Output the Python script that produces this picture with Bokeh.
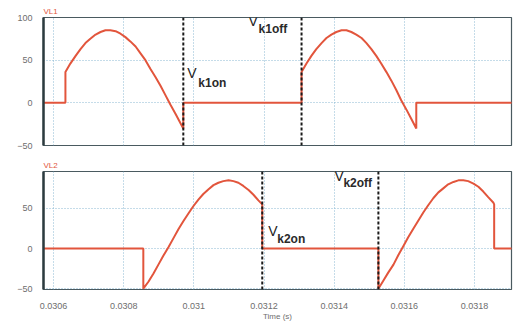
from bokeh.plotting import figure
from bokeh.layouts import column
from bokeh.models import Range1d, FixedTicker, Span, Label
from bokeh.embed import file_html
from bokeh.resources import INLINE

# ---------------- data ----------------
x_ticks = [0.0306, 0.0308, 0.031, 0.0312, 0.0314, 0.0316, 0.0318]
x_tick_labels = ["0.0306", "0.0308", "0.031", "0.0312", "0.0314", "0.0316", "0.0318"]
y_ticks_top = [-50, 0, 50, 100]
y_ticks_bot = [-50, 0, 50]

vl1_t = [0.03057, 0.030634,
         0.030634, 0.030648, 0.030663, 0.030677, 0.030691, 0.030705, 0.030720, 0.030734,
         0.030748, 0.030762, 0.030777, 0.030791, 0.030805, 0.030819, 0.030834, 0.030848,
         0.030862, 0.030876, 0.030891, 0.030905, 0.030919, 0.030933, 0.030948, 0.030962,
         0.030970,
         0.030970, 0.031307,
         0.031307, 0.031321, 0.031335, 0.031349, 0.031364, 0.031378, 0.031392, 0.031406,
         0.031421, 0.031435, 0.031449, 0.031463, 0.031478, 0.031492, 0.031506, 0.031520,
         0.031534, 0.031549, 0.031563, 0.031577, 0.031591, 0.031606, 0.031620, 0.031634,
         0.031634, 0.03191]
vl1_v = [0, 0,
         36, 46, 55, 63, 70, 75, 80, 83,
         85, 85, 84, 81, 77, 72, 66, 58,
         50, 40, 30, 20, 9, -2, -13, -24,
         -30,
         0, 0,
         36, 46, 55, 63, 70, 76, 80, 83,
         85, 85, 83, 80, 76, 70, 63, 55,
         46, 36, 26, 15, 3, -8, -19, -30,
         0, 0]

vl2_t = [0.03057, 0.030856,
         0.030856, 0.030871, 0.030885, 0.030899, 0.030913, 0.030928, 0.030942, 0.030956,
         0.030970, 0.030985, 0.030999, 0.031013, 0.031027, 0.031042, 0.031056, 0.031070,
         0.031084, 0.031099, 0.031113, 0.031127, 0.031141, 0.031156, 0.031170, 0.031184,
         0.031195,
         0.031195, 0.031526,
         0.031526, 0.031540, 0.031554, 0.031569, 0.031583, 0.031597, 0.031611, 0.031626,
         0.031640, 0.031654, 0.031668, 0.031683, 0.031697, 0.031711, 0.031725, 0.031740,
         0.031754, 0.031768, 0.031782, 0.031797, 0.031811, 0.031825, 0.031839, 0.031854,
         0.031856,
         0.031856, 0.03191]
vl2_v = [0, 0,
         -50, -41, -31, -20, -9, 2, 13, 24,
         34, 44, 53, 61, 68, 74, 79, 82,
         84, 85, 84, 82, 78, 73, 67, 60,
         55,
         0, 0,
         -50, -40, -30, -20, -8, 3, 14, 25,
         35, 45, 54, 63, 70, 75, 80, 83,
         85, 85, 84, 81, 77, 71, 64, 57,
         55,
         0, 0]

switch_top = [("k1on", 0.030970), ("k1off", 0.031307)]
switch_bot = [("k2on", 0.031195), ("k2off", 0.031526)]

# ---------------- style ----------------
RED = "#e2553c"
GRID = "#7fb3cf"
TICK = "#6e6e6e"
FONT = "Liberation Sans"
X_RANGE = (0.0305715, 0.0319054)


def base_fig(height, y0, y1, yticks, top, bottom, title):
    p = figure(width=516, height=height, output_backend="svg", toolbar_location=None,
               x_range=Range1d(*X_RANGE), y_range=Range1d(y0, y1),
               min_border_left=43, min_border_right=5,
               min_border_top=top, min_border_bottom=bottom, title=title)
    p.title.text_font = FONT
    p.title.text_font_size = "8px"
    p.title.text_font_style = "normal"
    p.title.text_color = RED
    p.title.standoff = 3
    p.title.offset = 0
    p.outline_line_color = "#4a5a60"
    p.outline_line_width = 1.2
    p.background_fill_color = "white"
    p.border_fill_color = "white"
    p.yaxis.ticker = FixedTicker(ticks=yticks)
    p.xaxis.ticker = FixedTicker(ticks=x_ticks)
    p.xgrid.ticker = FixedTicker(ticks=x_ticks)
    p.ygrid.ticker = FixedTicker(ticks=yticks)
    for g in (p.xgrid, p.ygrid):
        g.grid_line_color = GRID
        g.grid_line_dash = "1 2"
        g.grid_line_width = 1
        g.grid_line_alpha = 0.9
    ax = p.yaxis[0]
    ax.axis_line_color = "#2c3b3f"
    ax.axis_line_width = 2.5
    ax.major_tick_line_color = None
    ax.minor_tick_line_color = None
    ax.major_tick_out = 0
    ax.major_tick_in = 0
    ax.minor_tick_out = 0
    ax.major_label_text_font = FONT
    ax.major_label_text_font_size = "9px"
    ax.major_label_text_color = TICK
    ax.major_label_standoff = 11
    return p


# top panel
p1 = base_fig(154, -50, 100, y_ticks_top, 17, 9, "VL1")
p1.xaxis.visible = False
p1.line(vl1_t, vl1_v, line_color=RED, line_width=2)

# bottom panel
p2 = base_fig(170, -51, 96, y_ticks_bot, 17, 35, "VL2")
xa = p2.xaxis[0]
xa.axis_line_color = None
xa.major_tick_line_color = None
xa.minor_tick_line_color = None
xa.major_tick_out = 0
xa.major_tick_in = 0
xa.minor_tick_out = 0
xa.major_label_overrides = {t: s for t, s in zip(x_ticks, x_tick_labels)}
xa.major_label_text_font = FONT
xa.major_label_text_font_size = "9px"
xa.major_label_text_color = TICK
xa.major_label_standoff = 13
xa.axis_label = "Time (s)"
xa.axis_label_text_font = FONT
xa.axis_label_text_font_size = "8px"
xa.axis_label_text_font_style = "normal"
xa.axis_label_text_color = TICK
xa.axis_label_standoff = 0
p2.line(vl2_t, vl2_v, line_color=RED, line_width=2)

# switching markers
for p, sw, lab in (
        (p1, switch_top, [(4, 25.6, 15, -9), (-53, 86, -43, -7)]),
        (p2, switch_bot, [(6, 12.5, 15, -7), (-44, 80, -35, -6)])):
    for (name, t), (vx, vy, sx, sy) in zip(sw, lab):
        p.add_layout(Span(location=t, dimension="height", line_color="#1a1a1a",
                          line_width=2, line_dash="3 2"))
        p.add_layout(Label(x=t, y=vy, x_offset=vx, text="V", text_font=FONT,
                           text_font_size="14px", text_color="#222222"))
        p.add_layout(Label(x=t, y=vy, x_offset=sx, y_offset=sy, text=name,
                           text_font=FONT, text_font_size="12px", text_font_style="bold",
                           text_color="#2a2a2a"))

layout = column(p1, p2, spacing=0)
open("out.html", "w").write(file_html(layout, INLINE))
